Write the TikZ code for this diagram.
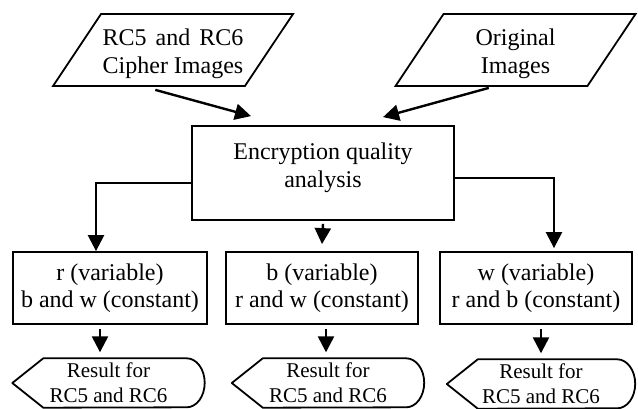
\documentclass[tikz,border=0pt]{standalone}
\usepackage{fontspec}
\setmainfont{Liberation Serif}
\usetikzlibrary{shapes.geometric,arrows.meta,calc}

\tikzset{
  inbox/.style={draw, line width=1.8pt, trapezium, trapezium left angle=56.3, trapezium right angle=123.7,
    trapezium stretches body, minimum width=240pt, inner sep=0pt},
  procbox/.style={draw, line width=1.8pt, rectangle, inner sep=0pt, minimum height=72pt, align=center,
    font=\fontsize{24pt}{27pt}\selectfont},
  outbox/.style={inner sep=0pt, minimum width=192pt, minimum height=49pt, align=center,
    font=\fontsize{21pt}{25pt}\selectfont},
  intext/.style={align=center, font=\fontsize{24pt}{28pt}\selectfont},
  conn/.style={line width=2.4pt, -{Triangle[length=16pt,width=16pt]}}
}
\newcommand{\Display}[1]{\draw[line width=1.8pt, line join=round] (#1.west) -- ([xshift=31pt]#1.north west)
  -- ([xshift=-18pt]#1.north east) arc[start angle=90, end angle=-90, x radius=18pt, y radius=24.5pt]
  -- ([xshift=31pt]#1.south west) -- cycle;}

\begin{document}
\begin{tikzpicture}[x=1pt,y=-1pt]
\useasboundingbox (0,0) rectangle (638,408);

\node[inbox, label={[intext, yshift=-4pt]center:{\makebox[141pt][s]{RC5 and RC6}\\Cipher Images}}] (cipher) at (173,50) {\rule{0pt}{72pt}};
\node[inbox, label={[intext, yshift=-4pt]center:{Original\\Images}}] (orig) at (515.5,50) {\rule{0pt}{72pt}};
\node[procbox, minimum width=262pt, minimum height=94pt,
  label={[intext, yshift=5pt]center:{Encryption quality\\analysis}}] (quality) at (323,173) {};

\node[procbox, minimum width=194pt] (rvar) at (110,288) {r (variable)\\b and w (constant)};
\node[procbox, minimum width=192pt] (bvar) at (322,288) {b (variable)\\r and w (constant)};
\node[procbox, minimum width=192pt] (wvar) at (536,288) {w (variable)\\r and b (constant)};

\node[outbox] (rres) at (108.5,383) {Result for\\RC5 and RC6};
\node[outbox] (bres) at (328,383) {Result for\\RC5 and RC6};
\node[outbox, minimum width=188pt] (wres) at (541,384) {Result for\\RC5 and RC6};
\Display{rres}
\Display{bres}
\Display{wres}

\draw[conn] ([xshift=104pt,yshift=-3pt]cipher.bottom left corner) -- ([xshift=-72pt,yshift=9pt]quality.north);
\draw[conn] ([xshift=95pt,yshift=-1pt]orig.bottom left corner) -- ([xshift=60pt,yshift=8pt]quality.north);
\draw[conn] ([yshift=-10pt]quality.west) -| ([xshift=-14pt]rvar.north);
\draw[conn] ([yshift=-3pt]quality.south) -- ([yshift=7pt]bvar.north);
\draw[conn] ([yshift=-5pt]quality.east) -| ([xshift=18pt,yshift=3pt]wvar.north);
\draw[conn] ([xshift=-10pt,yshift=-4pt]rvar.south) -- ([xshift=-8.5pt,yshift=6pt]rres.north);
\draw[conn] ([xshift=4pt,yshift=-4pt]bvar.south) -- ([xshift=-2pt,yshift=6pt]bres.north);
\draw[conn] ([xshift=5pt,yshift=-4pt]wvar.south) -- ([yshift=6pt]wres.north);
\end{tikzpicture}
\end{document}
